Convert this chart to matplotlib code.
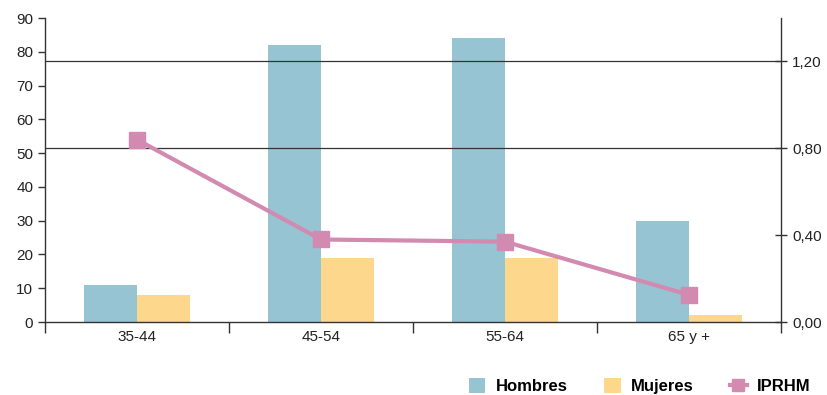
import matplotlib
matplotlib.use("Agg")
import matplotlib.pyplot as plt
import numpy as np
from matplotlib.ticker import FuncFormatter, FixedLocator

categories = ["35-44", "45-54", "55-64", "65 y +"]
hombres = [11, 82, 84, 30]
mujeres = [8, 19, 19, 2]
iprhm = [0.84, 0.38, 0.37, 0.125]

c_h = "#96C4D3"
c_m = "#FDD78C"
c_l = "#D28AB0"

plt.rcParams['font.family'] = ['Liberation Sans', 'DejaVu Sans']

fig = plt.figure(figsize=(8.27, 3.95), dpi=100)
W, H = 827, 395
ax = fig.add_axes([45/W, (H-322)/H, (781-45)/W, (322-18)/H])
ax2 = ax.twinx()

x = np.arange(len(categories))
bw = 0.29
ax.bar(x - bw/2, hombres, bw, color=c_h, label="Hombres", zorder=2)
ax.bar(x + bw/2, mujeres, bw, color=c_m, label="Mujeres", zorder=2)
ax.set_xlim(-0.5, len(categories) - 0.5)
ax.set_ylim(0, 90)
ax.set_yticks(range(0, 91, 10))

ax2.set_ylim(0, 1.4)
ax2.set_yticks([0, 0.4, 0.8, 1.2])
ax2.yaxis.set_major_formatter(FuncFormatter(lambda v, p: f"{v:.2f}".replace(".", ",")))
for g in [0.8, 1.2]:
    ax2.axhline(g, color="#333333", lw=0.9, zorder=1)
ax2.plot(x, iprhm, color=c_l, lw=3, marker="s", ms=11, label="IPRHM", zorder=3)

ax.xaxis.set_major_locator(FixedLocator(np.arange(-0.5, len(categories), 1.0)))
ax.xaxis.set_major_formatter(FuncFormatter(lambda v, p: ""))
ax.xaxis.set_minor_locator(FixedLocator(x))
ax.set_xticklabels(categories, minor=True)
ax.tick_params(axis="x", which="major", length=8, width=1, color="#333333", direction="out")
ax.tick_params(axis="x", which="minor", length=0, labelsize=11, colors="#222222", pad=6)
ax.tick_params(axis="y", length=5, width=1, color="#333333", labelsize=11, labelcolor="#222222", direction="out")
ax2.tick_params(axis="y", length=8, width=1, color="#333333", labelsize=11, labelcolor="#222222", direction="inout", pad=4)

for a in (ax, ax2):
    a.spines['top'].set_visible(False)
    for s in ['left', 'right', 'bottom']:
        a.spines[s].set_color("#333333")
        a.spines[s].set_linewidth(1)
ax.spines['right'].set_visible(False)
ax2.spines['left'].set_visible(False)
ax2.spines['bottom'].set_visible(False)

h1, l1 = ax.get_legend_handles_labels()
h2, l2 = ax2.get_legend_handles_labels()
leg = fig.legend(h1 + h2, l1 + l2, loc="center right", bbox_to_anchor=(822/W, (H-386)/H), ncol=3,
                 frameon=False, prop={'weight': 'bold', 'size': 12}, columnspacing=2.2,
                 handlelength=1.0, handleheight=1.0, handletextpad=0.6, markerscale=0.75, borderpad=0.2)

fig.savefig("out.png", dpi=100)
